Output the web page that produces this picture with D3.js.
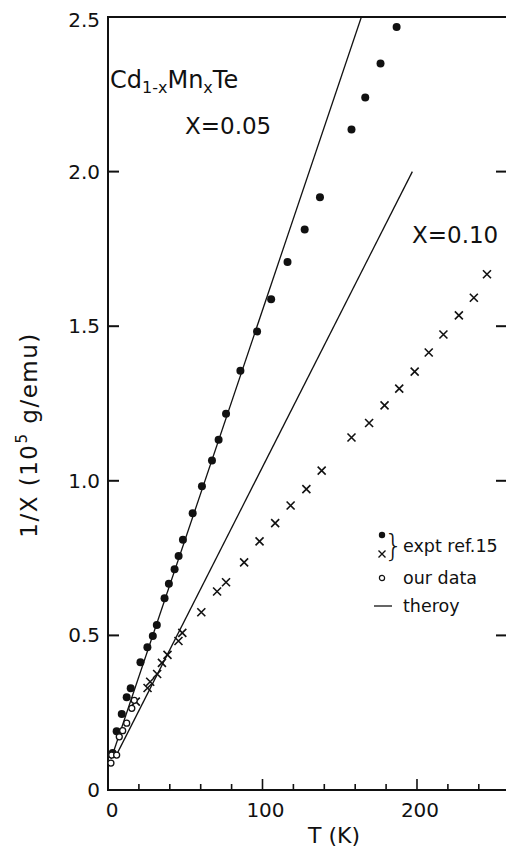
<!DOCTYPE html>
<html>
<head>
<meta charset="utf-8">
<script src="https://cdn.jsdelivr.net/npm/d3@7"></script>
<style>
  html, body { margin: 0; padding: 0; background: #fff; }
  svg text { font-family: "DejaVu Sans", sans-serif; fill: #111; }
</style>
</head>
<body>
<svg id="chart"></svg>
<script>
// ── Data ──────────────────────────────────────────────
// x = 0.05, expt ref.15 (filled dots)
const dotsT = [3.0, 5.6, 8.9, 12.1, 14.7, 21.0, 25.5, 29.0, 31.6, 36.6, 39.4, 43.1, 45.7, 48.5,
               54.8, 60.8, 67.3, 71.6, 76.4, 85.7, 96.5, 105.6, 116.2, 127.3, 137.2, 157.6,
               166.5, 176.4, 186.8];
const dotsV = [0.12, 0.19, 0.246, 0.30, 0.329, 0.413, 0.462, 0.498, 0.534, 0.62, 0.667, 0.714,
               0.757, 0.809, 0.895, 0.982, 1.066, 1.133, 1.217, 1.356, 1.483, 1.587, 1.708,
               1.813, 1.917, 2.136, 2.24, 2.35, 2.468];

// x = 0.10, expt ref.15 (crosses)
const crossT = [18.0, 25.6, 27.3, 31.8, 34.9, 38.5, 45.6, 48.1, 60.4, 70.6, 76.4, 88.1, 98.1,
                108.2, 118.2, 128.4, 138.3, 157.6, 169.0, 179.0, 188.5, 198.5, 207.6, 217.1,
                227.1, 236.8, 245.3];
const crossV = [0.286, 0.330, 0.350, 0.375, 0.411, 0.437, 0.482, 0.508, 0.575, 0.642, 0.672,
                0.736, 0.804, 0.863, 0.920, 0.973, 1.033, 1.140, 1.187, 1.244, 1.298, 1.353,
                1.415, 1.473, 1.535, 1.592, 1.668];

// our data (open circles)
const openT = [1.9, 2.4, 5.6, 7.3, 9.5, 12.1, 15.4, 17.0];
const openV = [0.087, 0.113, 0.113, 0.172, 0.192, 0.216, 0.264, 0.29];

// theory lines: [T, 1/X]
const theory05 = [[2, 0.10], [164, 2.5]];
const theory10 = [[4.5, 0.104], [197, 2.0]];

const xTicks = d3.range(0, 260, 20);
const xLabels = [0, 100, 200];
const yTicks = [0.5, 1.0, 1.5, 2.0];
const yLabels = [0, 0.5, 1.0, 1.5, 2.0, 2.5];

// ── Layout ────────────────────────────────────────────
const W = 506, H = 848;
const x = d3.scaleLinear().domain([0, 258]).range([108, 506.6]);
const y = d3.scaleLinear().domain([0, 2.5]).range([790, 17]);
const xEdge = 508; // right axis sits just off the picture

const svg = d3.select('#chart').attr('width', W).attr('height', H);
svg.append('rect').attr('width', W).attr('height', H).attr('fill', '#fff');

const ink = '#111';

// ── Frame ─────────────────────────────────────────────
const frame = svg.append('g').attr('stroke', ink).attr('fill', 'none');
frame.append('line').attr('x1', x(0)).attr('x2', x(0)).attr('y1', y(2.5) - 1).attr('y2', y(0) + 1).attr('stroke-width', 2);
frame.append('line').attr('x1', x(0) - 1).attr('x2', W).attr('y1', y(0)).attr('y2', y(0)).attr('stroke-width', 2);
frame.append('line').attr('x1', x(0) - 1).attr('x2', W).attr('y1', y(2.5)).attr('y2', y(2.5)).attr('stroke-width', 2);
frame.append('line').attr('x1', xEdge).attr('x2', xEdge).attr('y1', y(2.5)).attr('y2', y(0)).attr('stroke-width', 2);

// bottom ticks (inward)
frame.selectAll('.xt').data(xTicks).join('line')
  .attr('x1', d => x(d)).attr('x2', d => x(d))
  .attr('y1', y(0)).attr('y2', d => y(0) - (d % 100 === 0 ? 11 : 6))
  .attr('stroke-width', 1.6);

// left and right ticks (inward)
frame.selectAll('.yl').data(yTicks).join('line')
  .attr('x1', x(0)).attr('x2', x(0) + 11)
  .attr('y1', d => y(d)).attr('y2', d => y(d))
  .attr('stroke-width', 2);
frame.selectAll('.yr').data(yTicks).join('line')
  .attr('x1', xEdge).attr('x2', xEdge - 12)
  .attr('y1', d => y(d)).attr('y2', d => y(d))
  .attr('stroke-width', 2);

// tick labels
const fmtY = d => d === 0 ? '0' : d3.format('.1f')(d);
svg.selectAll('.ylab').data(yLabels).join('text')
  .attr('x', 100).attr('y', d => y(d) + (d === 2.5 ? 10 : 7))
  .attr('text-anchor', 'end').attr('font-size', 20)
  .text(fmtY);
svg.selectAll('.xlab').data(xLabels).join('text')
  .attr('x', d => x(d) + (d === 0 ? 4 : 3)).attr('y', 817)
  .attr('text-anchor', 'middle').attr('font-size', 20)
  .text(d => d);

// axis titles
svg.append('text')
  .attr('x', 334).attr('y', 843)
  .attr('text-anchor', 'middle').attr('font-size', 22)
  .text('T (K)');

const yTitle = svg.append('text')
  .attr('transform', 'translate(37,435) rotate(-90)')
  .attr('text-anchor', 'middle').attr('font-size', 23)
  .attr('letter-spacing', 1.5);
yTitle.append('tspan').text('1/X (10');
yTitle.append('tspan').attr('font-size', 15).attr('dy', -10).text('5');
yTitle.append('tspan').attr('dy', 10).text('  g/emu)');

// ── Annotations ───────────────────────────────────────
const comp = svg.append('text').attr('x', 110).attr('y', 88).attr('font-size', 24);
comp.append('tspan').text('Cd');
comp.append('tspan').attr('font-size', 16).attr('dy', 5).text('1-x');
comp.append('tspan').attr('dy', -5).text('Mn');
comp.append('tspan').attr('font-size', 16).attr('dy', 5).text('x');
comp.append('tspan').attr('dy', -5).text('Te');

svg.append('text').attr('x', 185).attr('y', 134).attr('font-size', 23).text('X=0.05');
svg.append('text').attr('x', 412).attr('y', 243).attr('font-size', 23).text('X=0.10');

// ── Theory lines ──────────────────────────────────────
const line = d3.line().x(d => x(d[0])).y(d => y(d[1]));
svg.append('clipPath').attr('id', 'plot')
  .append('rect').attr('x', x(0)).attr('y', y(2.5)).attr('width', W - x(0)).attr('height', y(0) - y(2.5));
const lines = svg.append('g').attr('clip-path', 'url(#plot)')
  .attr('fill', 'none').attr('stroke', ink).attr('stroke-width', 1.3);
lines.append('path').attr('d', line(theory05));
lines.append('path').attr('d', line(theory10));

// ── Markers ───────────────────────────────────────────
const crossPath = s => `M${-s},${-s}L${s},${s}M${-s},${s}L${s},${-s}`;

svg.append('g').selectAll('circle')
  .data(d3.zip(dotsT, dotsV)).join('circle')
  .attr('cx', d => x(d[0])).attr('cy', d => y(d[1]))
  .attr('r', 4).attr('fill', ink);

svg.append('g').selectAll('path')
  .data(d3.zip(crossT, crossV)).join('path')
  .attr('transform', d => `translate(${x(d[0])},${y(d[1])})`)
  .attr('d', crossPath(4))
  .attr('stroke', ink).attr('stroke-width', 1.6).attr('fill', 'none');

svg.append('g').selectAll('circle')
  .data(d3.zip(openT, openV)).join('circle')
  .attr('cx', d => x(d[0])).attr('cy', d => y(d[1]))
  .attr('r', 3).attr('fill', '#fff').attr('stroke', ink).attr('stroke-width', 1.3);

// ── Legend ────────────────────────────────────────────
const lg = svg.append('g').attr('transform', 'translate(382,0)');
lg.append('circle').attr('cx', 0).attr('cy', 535).attr('r', 3.2).attr('fill', ink);
lg.append('path').attr('transform', 'translate(0,554)').attr('d', crossPath(3.5))
  .attr('stroke', ink).attr('stroke-width', 1.4);
lg.append('text').attr('x', 2).attr('y', 556).attr('font-size', 30).attr('font-weight', 300)
  .text('}');
lg.append('text').attr('x', 21).attr('y', 552).attr('font-size', 17.5).text('expt ref.15');
lg.append('circle').attr('cx', 0).attr('cy', 578).attr('r', 2.6)
  .attr('fill', '#fff').attr('stroke', ink).attr('stroke-width', 1.2);
lg.append('text').attr('x', 21).attr('y', 584).attr('font-size', 17.5).text('our data');
lg.append('line').attr('x1', -8).attr('x2', 10).attr('y1', 606).attr('y2', 606)
  .attr('stroke', ink).attr('stroke-width', 1.3);
lg.append('text').attr('x', 21).attr('y', 612).attr('font-size', 17.5).text('theroy');
</script>
</body>
</html>
